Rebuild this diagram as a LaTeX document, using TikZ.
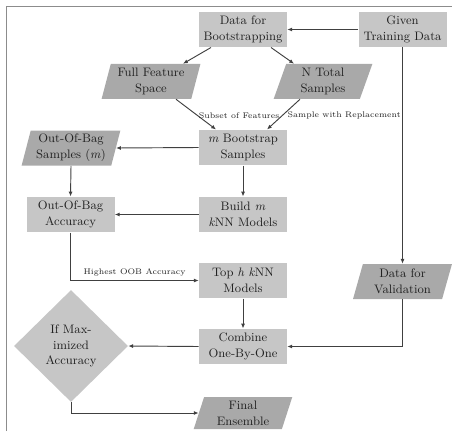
\documentclass[tikz,border=0pt]{standalone}
\usetikzlibrary{shapes.geometric,arrows.meta}
\definecolor{boxfill}{HTML}{C6C6C6}
\definecolor{parafill}{HTML}{A9A9A9}
\definecolor{linecol}{HTML}{404040}
\definecolor{framecol}{HTML}{8C8C8C}
\definecolor{txtcol}{HTML}{222222}
\begin{document}
\begin{tikzpicture}[x=0.75pt,y=-0.75pt,
  every node/.style={text=txtcol},
  boxnode/.style={rectangle,fill=boxfill,minimum width=66pt,minimum height=26.6pt,inner sep=0pt,align=center,font=\fontsize{9.2}{11.8}\selectfont},
  paranode/.style={trapezium,trapezium left angle=74,trapezium right angle=106,trapezium stretches=true,fill=parafill,minimum width=74.25pt,minimum height=26.25pt,inner sep=0pt,align=center,font=\fontsize{9.2}{11.8}\selectfont},
  decnode/.style={diamond,fill=boxfill,minimum width=85.5pt,minimum height=84pt,inner sep=0pt,align=center,font=\fontsize{9.2}{11.8}\selectfont},
  conn/.style={draw=linecol,line width=0.7pt,-{Latex[length=3.6pt,width=3pt]}},
  lbl/.style={font=\fontsize{6.1}{8}\selectfont,inner sep=0pt}
]
\useasboundingbox (0,0) rectangle (452,431);
\draw[framecol,line width=0.8pt] (6.5,431) -- (6.5,6.5) -- (452,6.5);

\node[boxnode] (dfb) at (243,29.5) {Data for\\Bootstrapping};
\node[boxnode] (gtd) at (402.5,29.5) {Given\\Training Data};
\node[paranode] (ffs) at (151,81.5) {Full Feature\\Space};
\node[paranode] (nts) at (323,81.5) {N Total\\Samples};
\node[boxnode] (mbs) at (243,147.5) {\textit{m} Bootstrap\\Samples};
\node[paranode] (oobs) at (71,148) {Out-Of-Bag\\Samples (\textit{m})};
\node[boxnode] (oobac) at (70.5,214.5) {Out-Of-Bag\\Accuracy};
\node[boxnode] (build) at (243,214.5) {Build \textit{m}\\\textit{k}NN Models};
\node[boxnode] (toph) at (243,280.5) {Top \textit{h} \textit{k}NN\\Models};
\node[paranode] (dfv) at (402.5,281.5) {Data for\\Validation};
\node[boxnode] (comb) at (243,346.5) {Combine\\One-By-One};
\node[decnode] (maxacc) at (71,346) {If Max-\\imized\\Accuracy};
\node[paranode,minimum height=24pt] (final) at (243,413) {Final\\Ensemble};

\draw[conn] (gtd.west) -- (dfb.east);
\draw[conn] ([xshift=-24pt]dfb.south) -- ([xshift=24pt]ffs.north);
\draw[conn] ([xshift=21pt]dfb.south) -- ([xshift=-21.75pt]nts.north);
\draw[conn] ([xshift=18.75pt]ffs.south) -- node[lbl,pos=0.56,anchor=west] {Subset of Features} ([xshift=-20.25pt]mbs.north);
\draw[conn] ([xshift=-17.25pt]nts.south) -- node[lbl,pos=0.55,anchor=west,xshift=4pt] {Sample with Replacement} ([xshift=18pt]mbs.north);
\draw[conn] (mbs.west) -- (oobs.east);
\draw[conn] (oobs.south) -- (oobac.north);
\draw[conn] (mbs.south) -- (build.north);
\draw[conn] (build.west) -- (oobac.east);
\draw[conn] (oobac.south) |- node[lbl,pos=0.75,above,yshift=3pt] {Highest OOB Accuracy} (toph.west);
\draw[conn] (toph.south) -- (comb.north);
\draw[conn] (gtd.south) -- (gtd.south |- dfv.north);
\draw[conn] (dfv.south) |- (comb.east);
\draw[conn] (comb.west) -- (maxacc.east);
\draw[conn] (maxacc.south) |- (final.west);
\end{tikzpicture}
\end{document}
